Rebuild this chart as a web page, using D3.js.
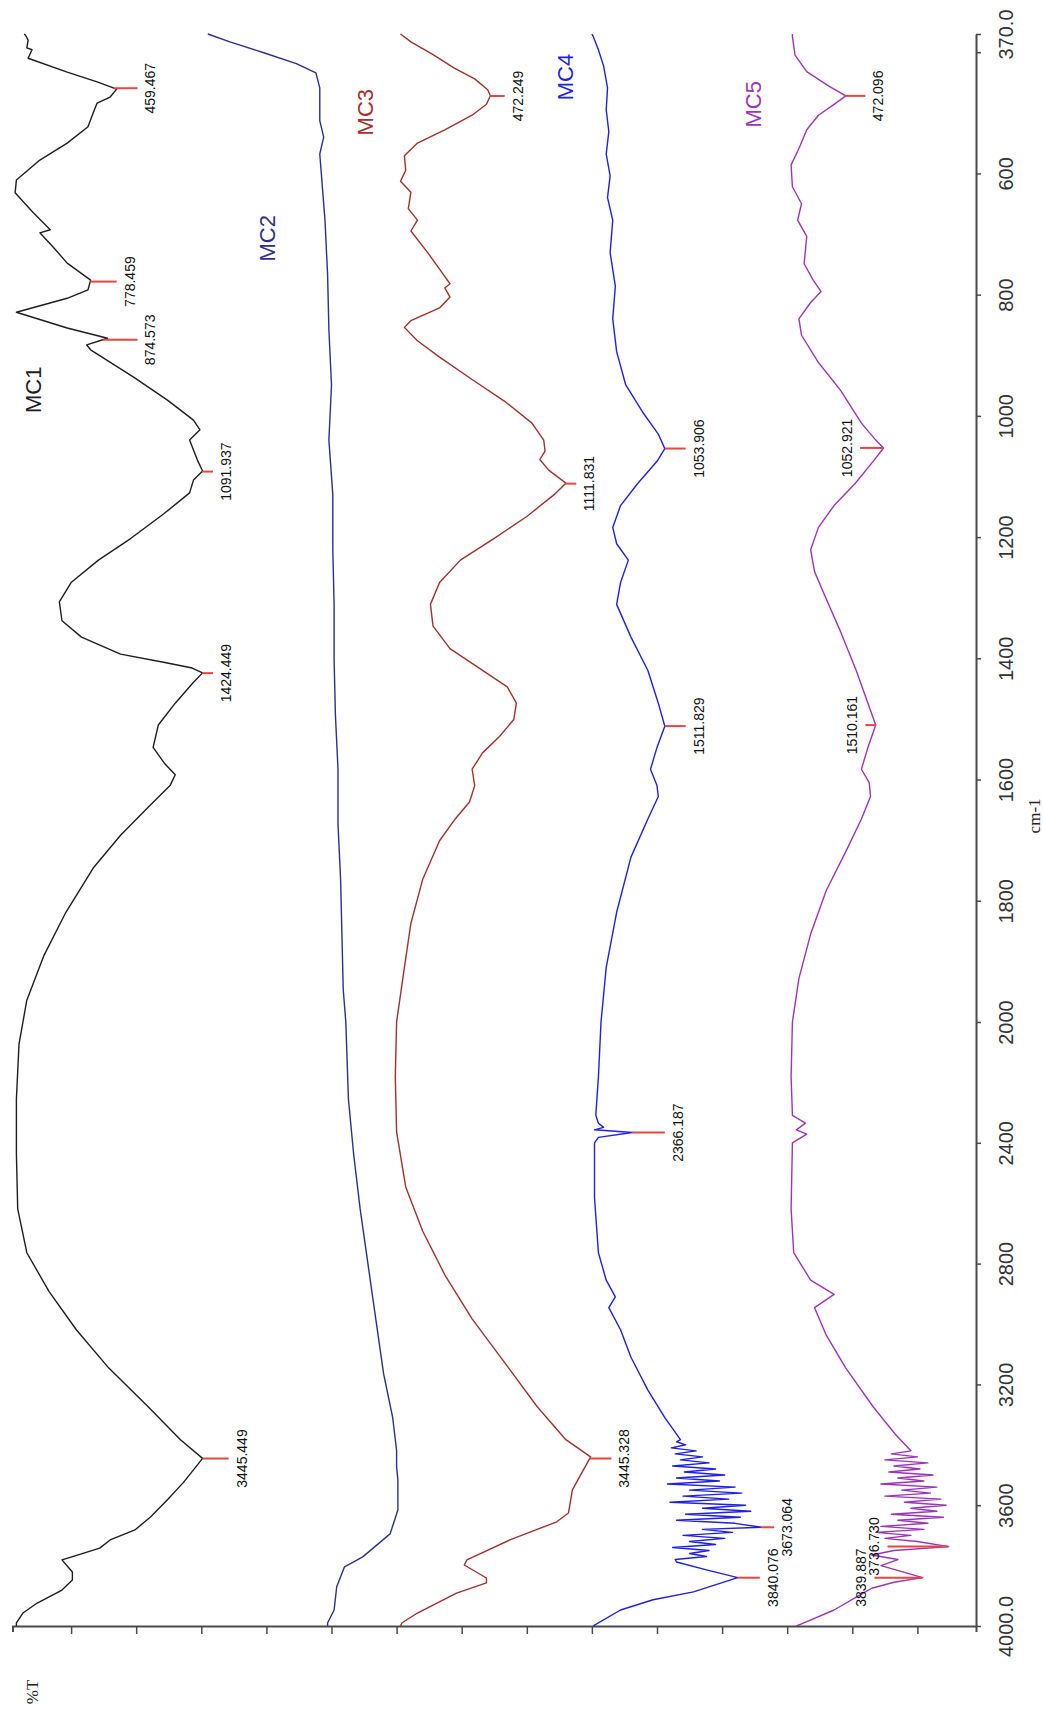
<!DOCTYPE html>
<html><head><meta charset="utf-8">
<script src="https://cdn.jsdelivr.net/npm/d3@7"></script>
<style>body{margin:0;background:#fff;} svg{display:block;}</style>
</head><body>
<svg id="c" width="1043" height="1724"></svg>
<script>
// Wavenumber axis (cm-1), with the instrument's scale change at 2000
const wnTicks = [370,400,600,800,1000,1200,1400,1600,1800,2000,2400,2800,3200,3600,4000];
const wnTickLabels = ["370.0","","600","800","1000","1200","1400","1600","1800","2000","2400","2800","3200","3600","4000.0"];
const tTicks = [5,10,15,20,25,30,35,40,45,50,55,60,65,70];

const seriesNames = ["MC1","MC2","MC3","MC4","MC5"];
const seriesColors = ["#1e1e1e","#2e2e90","#a3302b","#1f1fe6","#9b35b8"];

const mc1 = [[370,73.6],[372,73.5],[380,73.3],[393,73.4],[396,73.0],[410,73.3],[433,70.3],[449,68.0],[461,66.5],[474,67.0],[484,68.0],[500,68.3],[523,68.7],[550,70.3],[578,72.4],[611,74.2],[632,74.3],[665,72.9],[693,71.6],[698,72.4],[721,71.4],[748,70.3],[776,68.5],[792,68.7],[806,70.3],[829,74.2],[855,70.3],[872,67.2],[883,68.8],[891,68.5],[936,65.2],[974,62.6],[1007,60.6],[1023,60.1],[1040,60.9],[1073,60.3],[1091,59.9],[1106,60.6],[1127,60.9],[1162,62.9],[1202,65.4],[1238,67.9],[1275,70.0],[1307,70.9],[1338,70.7],[1365,69.2],[1393,66.2],[1407,62.8],[1416,60.7],[1424,59.9],[1442,60.7],[1474,62.0],[1510,63.3],[1547,63.7],[1574,62.8],[1592,62.0],[1610,62.4],[1646,64.1],[1692,66.2],[1746,68.3],[1819,70.4],[1891,72.1],[1964,73.4],[2073,74.0],[2255,74.2],[2437,74.2],[2619,74.1],[2764,73.4],[2892,71.7],[3019,69.6],[3146,67.1],[3273,64.1],[3383,61.6],[3445,59.9],[3483,60.6],[3526,61.4],[3582,62.6],[3639,63.9],[3682,65.1],[3715,67.0],[3742,67.8],[3768,69.7],[3781,70.7],[3821,69.9],[3848,69.9],[3881,70.7],[3924,72.6],[3957,73.7],[3990,74.2],[4000,74.2]];

const mc2 = [[370,59.5],[383,57.8],[401,55.2],[419,52.7],[434,51.2],[459,50.9],[513,50.9],[540,50.6],[568,50.9],[677,50.5],[767,50.3],[858,50.2],[949,50.0],[1040,50.2],[1130,49.9],[1221,49.9],[1311,49.8],[1402,49.8],[1493,49.7],[1583,49.5],[1674,49.5],[1765,49.3],[1855,49.2],[1946,49.1],[2000,48.9],[2255,48.7],[2437,48.3],[2619,47.8],[2801,47.2],[2983,46.6],[3164,46.0],[3310,45.3],[3419,45.0],[3473,45.0],[3516,44.9],[3616,44.9],[3695,45.5],[3771,47.6],[3804,49.0],[3870,49.6],[3947,49.8],[3990,50.3],[4000,50.3]];

const mc3 = [[370,44.7],[383,43.9],[404,42.2],[426,40.6],[444,39.0],[462,38.0],[472,37.8],[486,38.1],[504,39.2],[528,41.3],[550,43.4],[571,44.4],[595,44.3],[613,44.7],[631,43.9],[658,44.1],[677,43.4],[695,43.9],[731,42.6],[758,41.7],[782,40.9],[789,41.3],[804,40.9],[822,41.7],[843,43.9],[854,44.4],[876,43.4],[903,41.7],[940,39.2],[976,36.7],[1012,34.6],[1040,33.7],[1058,33.6],[1072,34.0],[1090,33.3],[1111,32.0],[1130,32.9],[1166,35.0],[1202,37.5],[1238,40.1],[1275,41.7],[1311,42.4],[1347,42.2],[1384,40.9],[1420,38.4],[1447,36.5],[1474,35.8],[1501,36.0],[1529,37.1],[1556,38.4],[1583,39.2],[1610,39.0],[1637,39.4],[1665,40.5],[1701,41.7],[1765,43.0],[1837,43.9],[1910,44.4],[2000,45.0],[2182,45.1],[2364,45.0],[2546,44.3],[2692,43.0],[2837,41.3],[2983,39.2],[3128,36.7],[3274,34.2],[3383,32.0],[3440,30.1],[3549,31.5],[3626,31.8],[3655,32.7],[3715,36.3],[3781,39.6],[3798,39.8],[3841,38.1],[3857,38.1],[3891,40.4],[3957,43.4],[3990,44.6],[4000,44.7]];

const mc4 = [[370,30.0],[374,29.9],[396,29.5],[423,29.1],[459,28.8],[495,28.9],[531,28.7],[568,28.9],[604,28.6],[640,28.8],[677,28.4],[731,28.6],[786,28.2],[840,28.4],[894,28.1],[949,27.4],[994,26.1],[1030,24.9],[1054,24.4],[1075,25.0],[1112,26.5],[1148,27.8],[1184,28.4],[1211,28.1],[1238,27.2],[1275,27.8],[1311,28.1],[1365,27.0],[1420,25.7],[1474,24.9],[1512,24.4],[1547,25.0],[1583,25.5],[1610,25.0],[1628,24.9],[1665,25.7],[1728,27.0],[1819,28.1],[1910,28.9],[2000,29.3],[2182,29.5],[2309,29.7],[2335,29.5],[2349,29.1],[2357,29.8],[2366,26.9],[2382,29.5],[2400,29.8],[2582,29.8],[2764,29.5],[2855,28.9],[2910,28.2],[2946,28.7],[3019,27.8],[3110,27.0],[3219,25.7],[3310,24.4],[3383,23.2],[3390,23.5],[3400,22.8],[3410,23.9],[3420,22.0],[3430,23.6],[3440,21.5],[3450,23.2],[3460,21.0],[3470,23.8],[3480,20.5],[3490,22.9],[3500,19.8],[3510,23.5],[3520,20.2],[3530,24.2],[3540,19.0],[3550,22.5],[3560,18.5],[3570,23.0],[3580,19.5],[3590,24.0],[3600,18.2],[3610,21.5],[3620,17.8],[3630,22.8],[3640,18.6],[3650,23.5],[3660,19.0],[3673,17.0],[3680,21.5],[3690,19.2],[3700,23.0],[3710,19.8],[3720,22.5],[3730,20.5],[3740,23.8],[3750,21.0],[3760,22.5],[3770,21.2],[3780,23.6],[3788,23.5],[3814,21.2],[3840,18.8],[3887,22.2],[3913,25.3],[3947,27.8],[3997,29.8],[4000,29.9]];

const mc5 = [[370,14.6],[374,14.6],[405,14.4],[432,13.5],[456,11.8],[472,10.5],[486,11.4],[504,12.6],[528,13.5],[559,14.1],[586,14.7],[622,14.6],[650,13.9],[677,14.2],[704,13.5],[749,13.7],[776,13.0],[795,12.4],[813,13.2],[840,14.1],[867,13.9],[912,12.6],[958,10.9],[1012,9.3],[1040,8.2],[1053,7.6],[1075,8.4],[1112,9.8],[1148,11.4],[1184,12.6],[1221,13.2],[1257,12.9],[1302,12.0],[1356,10.9],[1420,9.7],[1474,8.8],[1510,8.2],[1547,8.8],[1583,9.3],[1605,8.7],[1628,8.6],[1665,9.3],[1719,10.5],[1783,12.0],[1855,13.2],[1928,14.1],[2000,14.6],[2182,14.7],[2309,14.6],[2335,13.6],[2357,14.3],[2371,13.5],[2400,14.6],[2619,14.7],[2764,14.5],[2855,13.2],[2902,11.4],[2946,12.9],[3037,12.0],[3146,10.5],[3274,8.4],[3365,6.7],[3420,5.5],[3430,7.0],[3440,5.0],[3450,7.5],[3460,4.2],[3470,6.8],[3480,4.8],[3490,7.2],[3500,3.8],[3510,6.5],[3520,4.5],[3530,7.8],[3540,3.5],[3550,6.2],[3560,4.0],[3570,7.5],[3580,3.2],[3590,6.0],[3600,2.8],[3610,5.5],[3620,3.5],[3630,7.0],[3640,3.0],[3650,6.5],[3660,4.2],[3670,7.8],[3680,4.5],[3690,8.2],[3700,5.5],[3710,7.5],[3720,5.0],[3737,2.6],[3750,6.8],[3765,8.5],[3780,6.5],[3800,7.8],[3820,6.2],[3840,4.6],[3855,6.8],[3875,8.5],[3892,9.2],[3947,11.4],[3993,13.9],[4000,14.3]];

const seriesData = [mc1, mc2, mc3, mc4, mc5];

// series label anchors: [wavenumber, %T]
const nameAnchors = [[957,72.9],[707,54.9],[499,47.4],[441,32.0],[486,17.6]];

// peak marks: series index, wavenumber, label, %T at which the marker ends
const peakSeries = [0,0,0,0,0,0,2,2,2,3,3,3,3,3,4,4,4,4,4];
const peakWn = [459.467,778.459,874.573,1091.937,1424.449,3445.449,472.249,1111.831,3445.328,1053.906,1511.829,2366.187,3673.064,3840.076,472.096,1052.921,1510.161,3736.730,3839.887];
const peakLabels = ["459.467","778.459","874.573","1091.937","1424.449","3445.449","472.249","1111.831","3445.328","1053.906","1511.829","2366.187","3673.064","3840.076","472.096","1052.921","1510.161","3736.730","3839.887"];
const peakEndT = [64.9,66.5,64.9,59.1,59.1,57.9,36.7,31.2,28.5,22.8,22.8,24.4,16.0,17.1,9.0,9.4,9.0,7.3,8.3];

const svg = d3.select("#c");
const y = d3.scaleLinear().domain([370,2000,4000]).range([34,1022,1626]);
const x = d3.scaleLinear().domain([0.5,74.5]).range([976,12.5]);

const axisColor = "#4a4a4a";

// right (wavenumber) axis
const ra = svg.append("g").attr("transform","translate(976,0)")
  .call(d3.axisRight(y).tickValues(wnTicks).tickSize(5).tickSizeOuter(0)
    .tickFormat((d,i)=>wnTickLabels[i]));
ra.select(".domain").attr("stroke",axisColor).attr("stroke-width",2);
ra.selectAll(".tick line").attr("stroke",axisColor).attr("stroke-width",1.5);
ra.selectAll(".tick text").attr("x",null).attr("dy",null)
  .attr("transform","translate(30,0) rotate(-90)")
  .attr("text-anchor","middle").attr("dominant-baseline","central")
  .attr("font-family","Liberation Sans, Arial, sans-serif").attr("font-size",20).attr("fill","#333");

// bottom (%T) axis
const ba = svg.append("g").attr("transform","translate(0,1626)")
  .call(d3.axisBottom(x).tickValues(tTicks).tickSize(8).tickSizeOuter(6).tickFormat(""));
ba.select(".domain").attr("stroke",axisColor).attr("stroke-width",2);
ba.selectAll(".tick line").attr("stroke",axisColor).attr("stroke-width",1.5);

// curves
const line = d3.line().x(d=>x(d[1])).y(d=>y(d[0]));
seriesData.forEach((s,i)=>{
  svg.append("path").datum(s).attr("d",line).attr("fill","none")
    .attr("stroke",seriesColors[i]).attr("stroke-width",1.4).attr("stroke-linejoin","round");
});

// interpolate %T of a series at a wavenumber
function tAt(s, wn){
  const b = d3.bisector(d=>d[0]).left;
  let i = b(s, wn);
  if(i<=0) return s[0][1];
  if(i>=s.length) return s[s.length-1][1];
  const a=s[i-1], c=s[i];
  return a[1] + (c[1]-a[1])*(wn-a[0])/(c[0]-a[0]);
}

// peak markers: the label sits beyond the end of the marker
peakWn.forEach((wn,k)=>{
  const s = seriesData[peakSeries[k]];
  const t0 = tAt(s, wn);
  const xe = x(peakEndT[k]);
  const dir = x(peakEndT[k]) >= x(t0) ? 1 : -1;
  svg.append("line").attr("x1",x(t0)).attr("x2",xe)
    .attr("y1",y(wn)).attr("y2",y(wn)).attr("stroke","#e8463c").attr("stroke-width",2);
  svg.append("text").attr("transform",`translate(${xe+13*dir},${y(wn)}) rotate(-90)`)
    .attr("text-anchor","middle").attr("dominant-baseline","central")
    .attr("font-family","Liberation Sans, Arial, sans-serif").attr("font-size",14).attr("fill","#111")
    .text(peakLabels[k]);
});

// series names
nameAnchors.forEach((p,i)=>{
  svg.append("text").attr("transform",`translate(${x(p[1])},${y(p[0])}) rotate(-90)`)
    .attr("text-anchor","middle").attr("dominant-baseline","central")
    .attr("font-family","Liberation Sans, Arial, sans-serif").attr("font-size",22)
    .attr("fill",seriesColors[i]).text(seriesNames[i]);
});

// axis titles
svg.append("text").attr("transform",`translate(1034,${y(1660)}) rotate(-90)`)
  .attr("text-anchor","middle").attr("dominant-baseline","central")
  .attr("font-family","Liberation Serif, Times New Roman, serif").attr("font-size",17).attr("fill","#222").text("cm-1");
svg.append("text").attr("transform",`translate(${x(73.0)},1692) rotate(-90)`)
  .attr("text-anchor","middle").attr("dominant-baseline","central")
  .attr("font-family","Liberation Serif, Times New Roman, serif").attr("font-size",17).attr("fill","#222").text("%T");
</script>
</body></html>
